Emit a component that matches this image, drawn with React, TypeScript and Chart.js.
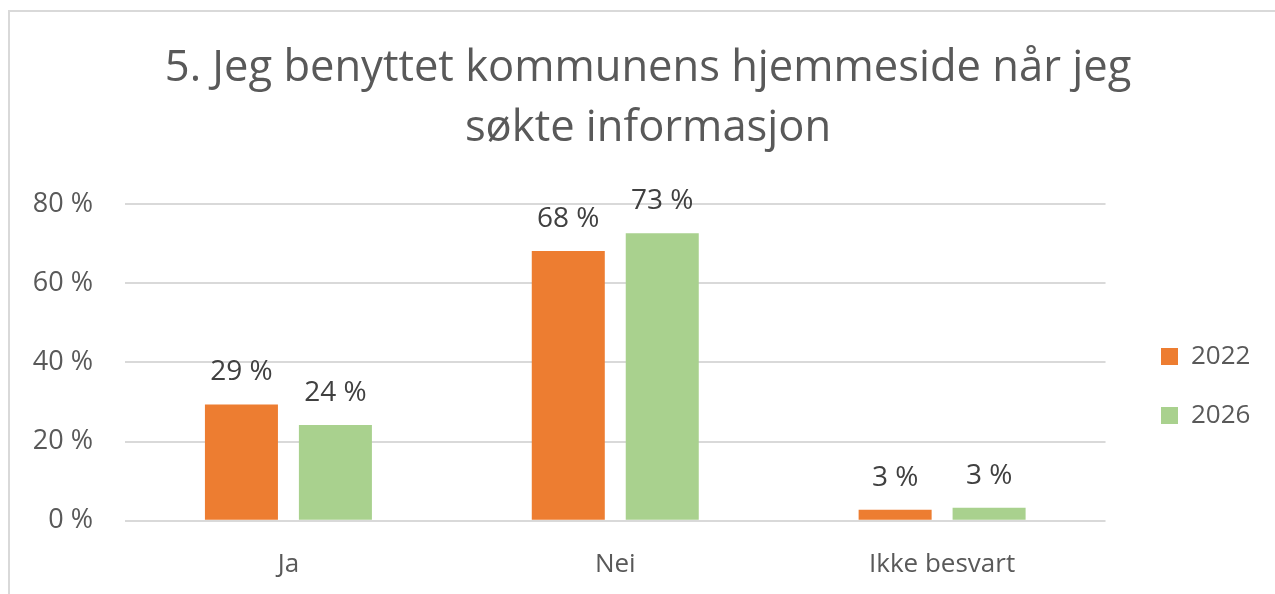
import React, { useEffect, useRef } from 'react';
import { Chart, registerables } from 'chart.js';

Chart.register(...registerables);

const categories = ['Ja', 'Nei', 'Ikke besvart'];
const seriesNames = ['2022', '2026'];
const values2022 = [29.4, 68.1, 2.8];
const values2026 = [24.2, 72.6, 3.3];
const yTicks = [0, 20, 40, 60, 80];
const titleLines = ['5. Jeg benyttet kommunens hjemmeside når jeg', 'søkte informasjon'];

const FONT = "'Open Sans', 'Noto Sans', sans-serif";
const ORANGE = '#ED7D31';
const GREEN = '#A9D18E';
const GRID = '#D9D9D9';
const AXIS_TEXT = '#595959';
const LABEL_TEXT = '#404040';

const LEGEND_PAD = 33;
const LEGEND_BOX_X = 1161;
const LEGEND_SHIFT_Y = 77;

const dataLabelPlugin = {
  id: 'barValueLabels',
  afterDatasetsDraw(chart: any) {
    const ctx = chart.ctx;
    ctx.save();
    ctx.font = `28px ${FONT}`;
    ctx.fillStyle = LABEL_TEXT;
    ctx.textAlign = 'center';
    ctx.textBaseline = 'alphabetic';
    chart.data.datasets.forEach((ds: any, di: number) => {
      const meta = chart.getDatasetMeta(di);
      meta.data.forEach((bar: any, i: number) => {
        const v = ds.data[i];
        ctx.fillText(`${Math.round(v)} %`, bar.x, bar.y - 24);
      });
    });
    ctx.restore();
  },
};

const layoutTweakPlugin = {
  id: 'layoutTweak',
  afterLayout(chart: any) {
    const lg = chart.legend;
    if (lg) {
      lg.left = LEGEND_BOX_X - LEGEND_PAD;
      lg.right = chart.width;
      lg.top += LEGEND_SHIFT_Y;
      lg.bottom += LEGEND_SHIFT_Y;
    }
    const y = chart.scales.y;
    if (y) {
      y.left = 0;
    }
  },
};

export default function App() {
  const ref = useRef<HTMLCanvasElement | null>(null);

  useEffect(() => {
    if (!ref.current) return;
    const chart = new Chart(ref.current, {
      type: 'bar',
      data: {
        labels: categories,
        datasets: [
          {
            label: seriesNames[0],
            data: values2022,
            backgroundColor: ORANGE,
            borderWidth: 0,
            categoryPercentage: 0.575,
            barPercentage: 0.777,
          },
          {
            label: seriesNames[1],
            data: values2026,
            backgroundColor: GREEN,
            borderWidth: 0,
            categoryPercentage: 0.575,
            barPercentage: 0.777,
          },
        ],
      },
      options: {
        responsive: false,
        animation: false,
        layout: { padding: { left: 58, right: 37, top: 10, bottom: -14 } },
        plugins: {
          title: {
            display: true,
            text: titleLines,
            color: AXIS_TEXT,
            font: { family: FONT, size: 43.5, weight: 'normal', lineHeight: 60 / 43.5 },
            padding: { top: 29, bottom: 45 },
          },
          legend: {
            position: 'right',
            labels: {
              boxWidth: 17,
              boxHeight: 17,
              padding: LEGEND_PAD,
              color: AXIS_TEXT,
              font: { family: FONT, size: 26 },
            },
          },
          tooltip: { enabled: false },
        },
        scales: {
          x: {
            grid: { display: false, drawTicks: false },
            border: { display: false },
            ticks: {
              color: AXIS_TEXT,
              font: { family: FONT, size: 26 },
              padding: 28,
            },
          },
          y: {
            min: yTicks[0],
            max: yTicks[yTicks.length - 1],
            afterFit(scale: any) {
              scale.width = 67;
            },
            afterBuildTicks(scale: any) {
              scale.ticks = yTicks.map((v) => ({ value: v }));
            },
            grid: { color: GRID, lineWidth: 2, drawTicks: false },
            border: { display: false },
            ticks: {
              color: AXIS_TEXT,
              font: { family: FONT, size: 27 },
              padding: 32,
              callback: (v: any) => `${v} %`,
            },
          },
        },
      },
      plugins: [dataLabelPlugin, layoutTweakPlugin],
    });
    return () => chart.destroy();
  }, []);

  return (
    <div style={{ position: 'fixed', left: 0, top: 0, width: 1275, height: 594, background: '#fff', overflow: 'hidden' }}>
      <canvas ref={ref} width={1275} height={594} style={{ display: 'block' }} />
      <div
        style={{
          position: 'absolute',
          left: 8,
          top: 10,
          width: 1267,
          height: 584,
          boxSizing: 'border-box',
          borderLeft: `2px solid ${GRID}`,
          borderTop: `2px solid ${GRID}`,
          pointerEvents: 'none',
        }}
      />
    </div>
  );
}
